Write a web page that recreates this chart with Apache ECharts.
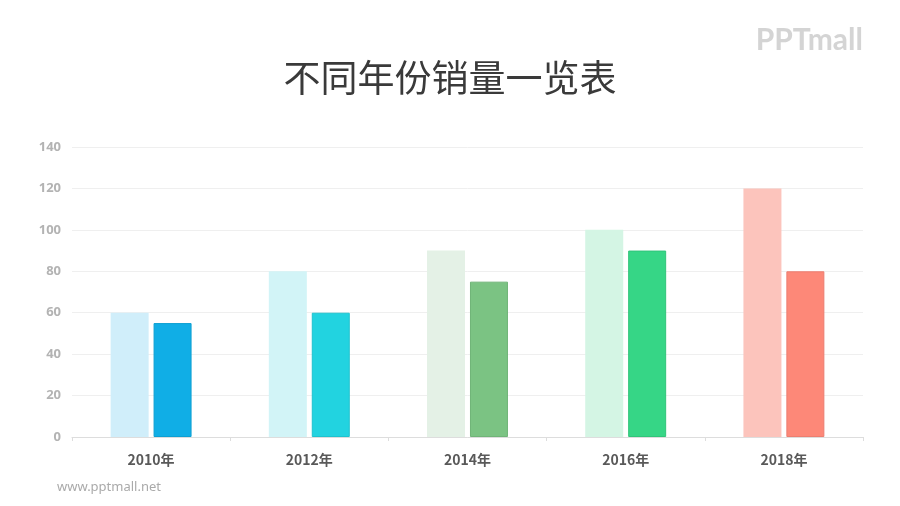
<!DOCTYPE html>
<html>
<head>
<meta charset="utf-8">
<script src="https://cdn.jsdelivr.net/npm/echarts@6/dist/echarts.min.js"></script>
<style>
html,body{margin:0;padding:0;background:#fff;}
#c{width:900px;height:506px;}
</style>
</head>
<body>
<div id="c"></div>
<script>
var categories = ['2010年', '2012年', '2014年', '2016年', '2018年'];
var seriesA = [60, 80, 90, 100, 120];
var seriesB = [55, 60, 75, 90, 80];
var yTicks = [0, 20, 40, 60, 80, 100, 120, 140];

var lightColors = ['#d0eefa', '#d2f4f7', '#e4f1e6', '#d4f5e4', '#fcc4bc'];
var darkColors = ['#10aee6', '#22d3e0', '#7bc383', '#36d686', '#fd8878'];
var darkBorders = ['#0e9fd2', '#1fc2ce', '#70b478', '#31c47a', '#ec7e70'];

var chart = echarts.init(document.getElementById('c'));
chart.setOption({
  backgroundColor: '#ffffff',
  animation: false,
  title: [{
    text: '不同年份销量一览表',
    left: 'center',
    top: 54,
    textStyle: {fontSize: 37, fontWeight: 'normal', color: '#3a3a3a', fontFamily: 'Noto Sans CJK SC'}
  }, {
    text: 'PPTmall',
    right: 32,
    top: 20,
    textStyle: {fontSize: 30, fontWeight: 'bold', color: '#d4d4d4', fontFamily: 'Lato'}
  }, {
    text: 'www.pptmall.net',
    left: 52,
    top: 476,
    textStyle: {fontSize: 13, fontWeight: 'normal', color: '#aaaaaa', fontFamily: 'Noto Sans'}
  }],
  grid: {left: 72, right: 37, top: 147, bottom: 69, containLabel: false},
  xAxis: {
    type: 'category',
    data: categories,
    axisLine: {lineStyle: {color: '#dddddd'}},
    axisTick: {show: true, length: 4, lineStyle: {color: '#dddddd'}},
    axisLabel: {margin: 16, fontSize: 14, fontWeight: 'bold', color: '#595959', fontFamily: 'Noto Sans CJK SC'}
  },
  yAxis: {
    type: 'value',
    min: yTicks[0],
    max: yTicks[yTicks.length - 1],
    interval: yTicks[1] - yTicks[0],
    axisLine: {show: false},
    axisTick: {show: false},
    splitLine: {lineStyle: {color: '#efefef'}},
    axisLabel: {margin: 11, fontSize: 13, fontWeight: 'bold', color: '#b3b3b3', fontFamily: 'Noto Sans'}
  },
  series: [{
    type: 'bar',
    barWidth: 38,
    barGap: '13%',
    data: seriesA.map(function (v, i) { return {value: v, itemStyle: {color: lightColors[i]}}; })
  }, {
    type: 'bar',
    barWidth: 38,
    barGap: '13%',
    data: seriesB.map(function (v, i) { return {value: v, itemStyle: {color: darkColors[i], borderColor: darkBorders[i], borderWidth: 1}}; })
  }]
});
</script>
</body>
</html>
